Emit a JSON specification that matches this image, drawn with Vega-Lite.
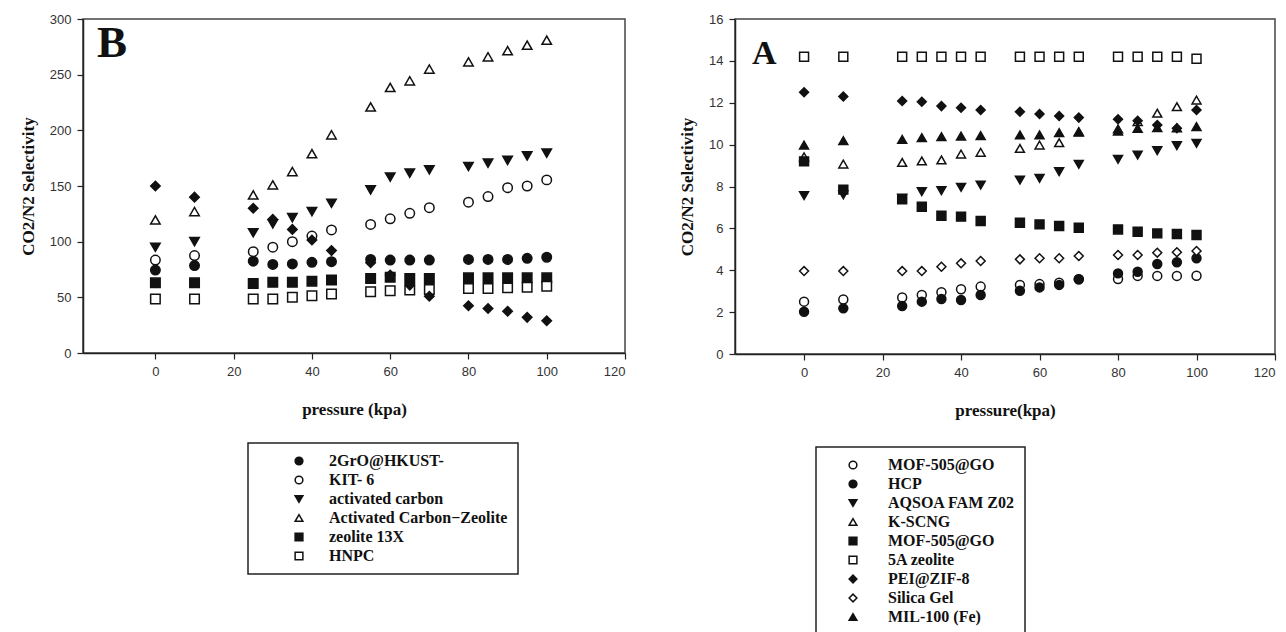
{
  "$schema": "https://vega.github.io/schema/vega-lite/v6.json",
  "background": "white",
  "padding": {"left": 18, "top": 12, "right": 5, "bottom": 5},
  "datasets": {
    "B": [
      {"material":"2GrO@HKUST-","pressure":0,"selectivity":74.5},{"material":"2GrO@HKUST-","pressure":10,"selectivity":78.5},{"material":"2GrO@HKUST-","pressure":25,"selectivity":82.5},{"material":"2GrO@HKUST-","pressure":30,"selectivity":79.5},{"material":"2GrO@HKUST-","pressure":35,"selectivity":80},{"material":"2GrO@HKUST-","pressure":40,"selectivity":81.5},{"material":"2GrO@HKUST-","pressure":45,"selectivity":82},{"material":"2GrO@HKUST-","pressure":55,"selectivity":84},{"material":"2GrO@HKUST-","pressure":60,"selectivity":83.5},{"material":"2GrO@HKUST-","pressure":65,"selectivity":83.5},{"material":"2GrO@HKUST-","pressure":70,"selectivity":83.5},{"material":"2GrO@HKUST-","pressure":80,"selectivity":84},{"material":"2GrO@HKUST-","pressure":85,"selectivity":84},{"material":"2GrO@HKUST-","pressure":90,"selectivity":84},{"material":"2GrO@HKUST-","pressure":95,"selectivity":85},{"material":"2GrO@HKUST-","pressure":100,"selectivity":86},
      {"material":"KIT- 6","pressure":0,"selectivity":83.5},{"material":"KIT- 6","pressure":10,"selectivity":87.5},{"material":"KIT- 6","pressure":25,"selectivity":91},{"material":"KIT- 6","pressure":30,"selectivity":95},{"material":"KIT- 6","pressure":35,"selectivity":100},{"material":"KIT- 6","pressure":40,"selectivity":105},{"material":"KIT- 6","pressure":45,"selectivity":110.5},{"material":"KIT- 6","pressure":55,"selectivity":115.5},{"material":"KIT- 6","pressure":60,"selectivity":120.5},{"material":"KIT- 6","pressure":65,"selectivity":125.5},{"material":"KIT- 6","pressure":70,"selectivity":130.5},{"material":"KIT- 6","pressure":80,"selectivity":135.5},{"material":"KIT- 6","pressure":85,"selectivity":140.5},{"material":"KIT- 6","pressure":90,"selectivity":148.5},{"material":"KIT- 6","pressure":95,"selectivity":150},{"material":"KIT- 6","pressure":100,"selectivity":155.5},
      {"material":"activated carbon","pressure":0,"selectivity":95},{"material":"activated carbon","pressure":10,"selectivity":100},{"material":"activated carbon","pressure":25,"selectivity":108},{"material":"activated carbon","pressure":30,"selectivity":116},{"material":"activated carbon","pressure":35,"selectivity":121.5},{"material":"activated carbon","pressure":40,"selectivity":127},{"material":"activated carbon","pressure":45,"selectivity":134.5},{"material":"activated carbon","pressure":55,"selectivity":146.5},{"material":"activated carbon","pressure":60,"selectivity":158},{"material":"activated carbon","pressure":65,"selectivity":161.5},{"material":"activated carbon","pressure":70,"selectivity":164.5},{"material":"activated carbon","pressure":80,"selectivity":167.5},{"material":"activated carbon","pressure":85,"selectivity":170.5},{"material":"activated carbon","pressure":90,"selectivity":173},{"material":"activated carbon","pressure":95,"selectivity":177},{"material":"activated carbon","pressure":100,"selectivity":179.5},
      {"material":"Activated Carbon−Zeolite","pressure":0,"selectivity":119.5},{"material":"Activated Carbon−Zeolite","pressure":10,"selectivity":127},{"material":"Activated Carbon−Zeolite","pressure":25,"selectivity":142},{"material":"Activated Carbon−Zeolite","pressure":30,"selectivity":151},{"material":"Activated Carbon−Zeolite","pressure":35,"selectivity":163},{"material":"Activated Carbon−Zeolite","pressure":40,"selectivity":179},{"material":"Activated Carbon−Zeolite","pressure":45,"selectivity":196},{"material":"Activated Carbon−Zeolite","pressure":55,"selectivity":221},{"material":"Activated Carbon−Zeolite","pressure":60,"selectivity":238.5},{"material":"Activated Carbon−Zeolite","pressure":65,"selectivity":244.5},{"material":"Activated Carbon−Zeolite","pressure":70,"selectivity":255},{"material":"Activated Carbon−Zeolite","pressure":80,"selectivity":261.5},{"material":"Activated Carbon−Zeolite","pressure":85,"selectivity":266},{"material":"Activated Carbon−Zeolite","pressure":90,"selectivity":271.5},{"material":"Activated Carbon−Zeolite","pressure":95,"selectivity":276.5},{"material":"Activated Carbon−Zeolite","pressure":100,"selectivity":281},
      {"material":"zeolite 13X","pressure":0,"selectivity":63},{"material":"zeolite 13X","pressure":10,"selectivity":63},{"material":"zeolite 13X","pressure":25,"selectivity":62.5},{"material":"zeolite 13X","pressure":30,"selectivity":63.5},{"material":"zeolite 13X","pressure":35,"selectivity":63.5},{"material":"zeolite 13X","pressure":40,"selectivity":64.5},{"material":"zeolite 13X","pressure":45,"selectivity":65.5},{"material":"zeolite 13X","pressure":55,"selectivity":67},{"material":"zeolite 13X","pressure":60,"selectivity":68},{"material":"zeolite 13X","pressure":65,"selectivity":67},{"material":"zeolite 13X","pressure":70,"selectivity":67},{"material":"zeolite 13X","pressure":80,"selectivity":67.5},{"material":"zeolite 13X","pressure":85,"selectivity":67.5},{"material":"zeolite 13X","pressure":90,"selectivity":67.5},{"material":"zeolite 13X","pressure":95,"selectivity":67.5},{"material":"zeolite 13X","pressure":100,"selectivity":67.5},
      {"material":"HNPC","pressure":0,"selectivity":48.5},{"material":"HNPC","pressure":10,"selectivity":48.5},{"material":"HNPC","pressure":25,"selectivity":48.5},{"material":"HNPC","pressure":30,"selectivity":48.5},{"material":"HNPC","pressure":35,"selectivity":50},{"material":"HNPC","pressure":40,"selectivity":51.5},{"material":"HNPC","pressure":45,"selectivity":53},{"material":"HNPC","pressure":55,"selectivity":55},{"material":"HNPC","pressure":60,"selectivity":56},{"material":"HNPC","pressure":65,"selectivity":56.5},{"material":"HNPC","pressure":70,"selectivity":57},{"material":"HNPC","pressure":80,"selectivity":58},{"material":"HNPC","pressure":85,"selectivity":58},{"material":"HNPC","pressure":90,"selectivity":58.5},{"material":"HNPC","pressure":95,"selectivity":59},{"material":"HNPC","pressure":100,"selectivity":60},
      {"material":"Series 7","pressure":0,"selectivity":150},{"material":"Series 7","pressure":10,"selectivity":140},{"material":"Series 7","pressure":25,"selectivity":130},{"material":"Series 7","pressure":30,"selectivity":120},{"material":"Series 7","pressure":35,"selectivity":111},{"material":"Series 7","pressure":40,"selectivity":101.5},{"material":"Series 7","pressure":45,"selectivity":92},{"material":"Series 7","pressure":55,"selectivity":81},{"material":"Series 7","pressure":60,"selectivity":70},{"material":"Series 7","pressure":65,"selectivity":61},{"material":"Series 7","pressure":70,"selectivity":51},{"material":"Series 7","pressure":80,"selectivity":42.5},{"material":"Series 7","pressure":85,"selectivity":40},{"material":"Series 7","pressure":90,"selectivity":37.5},{"material":"Series 7","pressure":95,"selectivity":32},{"material":"Series 7","pressure":100,"selectivity":29}
    ],
    "A": [
      {"material":"MOF-505@GO","pressure":0,"selectivity":2.5},{"material":"MOF-505@GO","pressure":10,"selectivity":2.6},{"material":"MOF-505@GO","pressure":25,"selectivity":2.7},{"material":"MOF-505@GO","pressure":30,"selectivity":2.82},{"material":"MOF-505@GO","pressure":35,"selectivity":2.95},{"material":"MOF-505@GO","pressure":40,"selectivity":3.09},{"material":"MOF-505@GO","pressure":45,"selectivity":3.22},{"material":"MOF-505@GO","pressure":55,"selectivity":3.3},{"material":"MOF-505@GO","pressure":60,"selectivity":3.34},{"material":"MOF-505@GO","pressure":65,"selectivity":3.41},{"material":"MOF-505@GO","pressure":70,"selectivity":3.57},{"material":"MOF-505@GO","pressure":80,"selectivity":3.58},{"material":"MOF-505@GO","pressure":85,"selectivity":3.73},{"material":"MOF-505@GO","pressure":90,"selectivity":3.73},{"material":"MOF-505@GO","pressure":95,"selectivity":3.73},{"material":"MOF-505@GO","pressure":100,"selectivity":3.74},
      {"material":"HCP","pressure":0,"selectivity":2.02},{"material":"HCP","pressure":10,"selectivity":2.18},{"material":"HCP","pressure":25,"selectivity":2.29},{"material":"HCP","pressure":30,"selectivity":2.5},{"material":"HCP","pressure":35,"selectivity":2.63},{"material":"HCP","pressure":40,"selectivity":2.58},{"material":"HCP","pressure":45,"selectivity":2.82},{"material":"HCP","pressure":55,"selectivity":3.02},{"material":"HCP","pressure":60,"selectivity":3.18},{"material":"HCP","pressure":65,"selectivity":3.3},{"material":"HCP","pressure":70,"selectivity":3.57},{"material":"HCP","pressure":80,"selectivity":3.85},{"material":"HCP","pressure":85,"selectivity":3.93},{"material":"HCP","pressure":90,"selectivity":4.3},{"material":"HCP","pressure":95,"selectivity":4.38},{"material":"HCP","pressure":100,"selectivity":4.57},
      {"material":"AQSOA FAM Z02","pressure":0,"selectivity":7.57},{"material":"AQSOA FAM Z02","pressure":10,"selectivity":7.6},{"material":"AQSOA FAM Z02","pressure":25,"selectivity":7.45},{"material":"AQSOA FAM Z02","pressure":30,"selectivity":7.75},{"material":"AQSOA FAM Z02","pressure":35,"selectivity":7.8},{"material":"AQSOA FAM Z02","pressure":40,"selectivity":7.96},{"material":"AQSOA FAM Z02","pressure":45,"selectivity":8.07},{"material":"AQSOA FAM Z02","pressure":55,"selectivity":8.31},{"material":"AQSOA FAM Z02","pressure":60,"selectivity":8.39},{"material":"AQSOA FAM Z02","pressure":65,"selectivity":8.71},{"material":"AQSOA FAM Z02","pressure":70,"selectivity":9.06},{"material":"AQSOA FAM Z02","pressure":80,"selectivity":9.3},{"material":"AQSOA FAM Z02","pressure":85,"selectivity":9.5},{"material":"AQSOA FAM Z02","pressure":90,"selectivity":9.71},{"material":"AQSOA FAM Z02","pressure":95,"selectivity":9.95},{"material":"AQSOA FAM Z02","pressure":100,"selectivity":10.06},
      {"material":"K-SCNG","pressure":0,"selectivity":9.42},{"material":"K-SCNG","pressure":10,"selectivity":9.07},{"material":"K-SCNG","pressure":25,"selectivity":9.15},{"material":"K-SCNG","pressure":30,"selectivity":9.22},{"material":"K-SCNG","pressure":35,"selectivity":9.27},{"material":"K-SCNG","pressure":40,"selectivity":9.55},{"material":"K-SCNG","pressure":45,"selectivity":9.63},{"material":"K-SCNG","pressure":55,"selectivity":9.82},{"material":"K-SCNG","pressure":60,"selectivity":9.98},{"material":"K-SCNG","pressure":65,"selectivity":10.09},{"material":"K-SCNG","pressure":70,"selectivity":10.6},{"material":"K-SCNG","pressure":80,"selectivity":10.75},{"material":"K-SCNG","pressure":85,"selectivity":11.1},{"material":"K-SCNG","pressure":90,"selectivity":11.5},{"material":"K-SCNG","pressure":95,"selectivity":11.81},{"material":"K-SCNG","pressure":100,"selectivity":12.13},
      {"material":"MOF-505@GO #2","pressure":0,"selectivity":9.2},{"material":"MOF-505@GO #2","pressure":10,"selectivity":7.85},{"material":"MOF-505@GO #2","pressure":25,"selectivity":7.39},{"material":"MOF-505@GO #2","pressure":30,"selectivity":7.03},{"material":"MOF-505@GO #2","pressure":35,"selectivity":6.6},{"material":"MOF-505@GO #2","pressure":40,"selectivity":6.56},{"material":"MOF-505@GO #2","pressure":45,"selectivity":6.35},{"material":"MOF-505@GO #2","pressure":55,"selectivity":6.27},{"material":"MOF-505@GO #2","pressure":60,"selectivity":6.19},{"material":"MOF-505@GO #2","pressure":65,"selectivity":6.11},{"material":"MOF-505@GO #2","pressure":70,"selectivity":6.03},{"material":"MOF-505@GO #2","pressure":80,"selectivity":5.95},{"material":"MOF-505@GO #2","pressure":85,"selectivity":5.84},{"material":"MOF-505@GO #2","pressure":90,"selectivity":5.76},{"material":"MOF-505@GO #2","pressure":95,"selectivity":5.73},{"material":"MOF-505@GO #2","pressure":100,"selectivity":5.68},
      {"material":"5A zeolite","pressure":0,"selectivity":14.2},{"material":"5A zeolite","pressure":10,"selectivity":14.2},{"material":"5A zeolite","pressure":25,"selectivity":14.2},{"material":"5A zeolite","pressure":30,"selectivity":14.2},{"material":"5A zeolite","pressure":35,"selectivity":14.2},{"material":"5A zeolite","pressure":40,"selectivity":14.2},{"material":"5A zeolite","pressure":45,"selectivity":14.2},{"material":"5A zeolite","pressure":55,"selectivity":14.2},{"material":"5A zeolite","pressure":60,"selectivity":14.2},{"material":"5A zeolite","pressure":65,"selectivity":14.2},{"material":"5A zeolite","pressure":70,"selectivity":14.2},{"material":"5A zeolite","pressure":80,"selectivity":14.2},{"material":"5A zeolite","pressure":85,"selectivity":14.2},{"material":"5A zeolite","pressure":90,"selectivity":14.2},{"material":"5A zeolite","pressure":95,"selectivity":14.2},{"material":"5A zeolite","pressure":100,"selectivity":14.1},
      {"material":"PEI@ZIF-8","pressure":0,"selectivity":12.5},{"material":"PEI@ZIF-8","pressure":10,"selectivity":12.3},{"material":"PEI@ZIF-8","pressure":25,"selectivity":12.08},{"material":"PEI@ZIF-8","pressure":30,"selectivity":12.05},{"material":"PEI@ZIF-8","pressure":35,"selectivity":11.84},{"material":"PEI@ZIF-8","pressure":40,"selectivity":11.76},{"material":"PEI@ZIF-8","pressure":45,"selectivity":11.65},{"material":"PEI@ZIF-8","pressure":55,"selectivity":11.57},{"material":"PEI@ZIF-8","pressure":60,"selectivity":11.46},{"material":"PEI@ZIF-8","pressure":65,"selectivity":11.37},{"material":"PEI@ZIF-8","pressure":70,"selectivity":11.29},{"material":"PEI@ZIF-8","pressure":80,"selectivity":11.21},{"material":"PEI@ZIF-8","pressure":85,"selectivity":11.14},{"material":"PEI@ZIF-8","pressure":90,"selectivity":10.94},{"material":"PEI@ZIF-8","pressure":95,"selectivity":10.78},{"material":"PEI@ZIF-8","pressure":100,"selectivity":11.65},
      {"material":"Silica Gel","pressure":0,"selectivity":3.96},{"material":"Silica Gel","pressure":10,"selectivity":3.96},{"material":"Silica Gel","pressure":25,"selectivity":3.96},{"material":"Silica Gel","pressure":30,"selectivity":3.96},{"material":"Silica Gel","pressure":35,"selectivity":4.17},{"material":"Silica Gel","pressure":40,"selectivity":4.33},{"material":"Silica Gel","pressure":45,"selectivity":4.44},{"material":"Silica Gel","pressure":55,"selectivity":4.52},{"material":"Silica Gel","pressure":60,"selectivity":4.57},{"material":"Silica Gel","pressure":65,"selectivity":4.57},{"material":"Silica Gel","pressure":70,"selectivity":4.68},{"material":"Silica Gel","pressure":80,"selectivity":4.73},{"material":"Silica Gel","pressure":85,"selectivity":4.73},{"material":"Silica Gel","pressure":90,"selectivity":4.84},{"material":"Silica Gel","pressure":95,"selectivity":4.86},{"material":"Silica Gel","pressure":100,"selectivity":4.92},
      {"material":"MIL-100 (Fe)","pressure":0,"selectivity":9.98},{"material":"MIL-100 (Fe)","pressure":10,"selectivity":10.19},{"material":"MIL-100 (Fe)","pressure":25,"selectivity":10.25},{"material":"MIL-100 (Fe)","pressure":30,"selectivity":10.33},{"material":"MIL-100 (Fe)","pressure":35,"selectivity":10.38},{"material":"MIL-100 (Fe)","pressure":40,"selectivity":10.41},{"material":"MIL-100 (Fe)","pressure":45,"selectivity":10.43},{"material":"MIL-100 (Fe)","pressure":55,"selectivity":10.46},{"material":"MIL-100 (Fe)","pressure":60,"selectivity":10.46},{"material":"MIL-100 (Fe)","pressure":65,"selectivity":10.57},{"material":"MIL-100 (Fe)","pressure":70,"selectivity":10.62},{"material":"MIL-100 (Fe)","pressure":80,"selectivity":10.65},{"material":"MIL-100 (Fe)","pressure":85,"selectivity":10.78},{"material":"MIL-100 (Fe)","pressure":90,"selectivity":10.81},{"material":"MIL-100 (Fe)","pressure":95,"selectivity":10.8},{"material":"MIL-100 (Fe)","pressure":100,"selectivity":10.86}
    ]
  },
  "config": {
    "view": {"stroke": "#444", "strokeWidth": 1.5},
    "axis": {"grid": false, "domainColor": "#222", "domainWidth": 1.5, "tickColor": "#222", "tickWidth": 1.2, "tickSize": 6, "labelPadding": 6, "labelFont": "Liberation Sans", "labelFontSize": 13, "labelColor": "#333", "titleFont": "Liberation Serif", "titleFontWeight": "bold", "titleFontSize": 17, "titleColor": "#111", "titlePadding": 12},
    "axisX": {"titlePadding": 23},
    "legend": {"orient": "none", "title": null, "strokeColor": "#222", "strokeWidth": 1.5, "fillColor": "white", "padding": 10, "labelFont": "Liberation Serif", "labelFontWeight": "bold", "labelFontSize": 16, "labelColor": "#111", "labelLimit": 400, "symbolSize": 60, "symbolStrokeWidth": 1.5, "rowPadding": 3},
    "title": {"anchor": "start", "frame": "group", "font": "Liberation Serif", "fontWeight": "bold", "color": "#111"}
  },
  "spacing": 50,
  "resolve": {"scale": {"x": "independent", "y": "independent", "shape": "independent", "fill": "independent", "stroke": "independent"}, "legend": {"shape": "independent", "fill": "independent", "stroke": "independent"}},
  "hconcat": [
    {
      "width": 542, "height": 334,
      "data": {"name": "B"},
      "title": {"text": "B", "fontSize": 45, "offset": -53, "dx": 14},
      "mark": {"type": "point", "strokeWidth": 1.5, "size": 90, "opacity": 1},
      "encoding": {
        "x": {"field": "pressure", "type": "quantitative", "scale": {"domain": [-18.5, 120], "nice": false, "zero": false}, "axis": {"values": [0, 20, 40, 60, 80, 100, 120], "title": "pressure (kpa)"}},
        "y": {"field": "selectivity", "type": "quantitative", "scale": {"domain": [0, 300], "nice": false}, "axis": {"values": [0, 50, 100, 150, 200, 250, 300], "title": "CO2/N2 Selectivity"}},
        "shape": {"field": "material", "type": "nominal", "scale": {"domain": ["2GrO@HKUST-", "KIT- 6", "activated carbon", "Activated Carbon−Zeolite", "zeolite 13X", "HNPC", "Series 7"], "range": ["circle", "circle", "triangle-down", "triangle-up", "square", "square", "diamond"]}, "legend": {"values": ["2GrO@HKUST-", "KIT- 6", "activated carbon", "Activated Carbon−Zeolite", "zeolite 13X", "HNPC"], "legendX": 165, "legendY": 424, "symbolOffset": 33, "labelOffset": 22}},
        "fill": {"field": "material", "type": "nominal", "scale": {"domain": ["2GrO@HKUST-", "KIT- 6", "activated carbon", "Activated Carbon−Zeolite", "zeolite 13X", "HNPC", "Series 7"], "range": ["#111", "white", "#111", "white", "#111", "white", "#111"]}, "legend": {"values": ["2GrO@HKUST-", "KIT- 6", "activated carbon", "Activated Carbon−Zeolite", "zeolite 13X", "HNPC"], "legendX": 165, "legendY": 424, "symbolOffset": 33, "labelOffset": 22}},
        "stroke": {"field": "material", "type": "nominal", "scale": {"domain": ["2GrO@HKUST-", "KIT- 6", "activated carbon", "Activated Carbon−Zeolite", "zeolite 13X", "HNPC", "Series 7"], "range": ["#111", "#111", "#111", "#111", "#111", "#111", "#111"]}, "legend": {"values": ["2GrO@HKUST-", "KIT- 6", "activated carbon", "Activated Carbon−Zeolite", "zeolite 13X", "HNPC"], "legendX": 165, "legendY": 424, "symbolOffset": 33, "labelOffset": 22}}
      }
    },
    {
      "width": 540, "height": 335,
      "data": {"name": "A"},
      "title": {"text": "A", "fontSize": 34, "offset": -58, "dx": 17},
      "mark": {"type": "point", "strokeWidth": 1.5, "size": 80, "opacity": 1},
      "encoding": {
        "x": {"field": "pressure", "type": "quantitative", "scale": {"domain": [-17.6, 120], "nice": false, "zero": false}, "axis": {"values": [0, 20, 40, 60, 80, 100, 120], "title": "pressure(kpa)"}},
        "y": {"field": "selectivity", "type": "quantitative", "scale": {"domain": [0, 16], "nice": false}, "axis": {"values": [0, 2, 4, 6, 8, 10, 12, 14, 16], "title": "CO2/N2 Selectivity"}},
        "shape": {"field": "material", "type": "nominal", "scale": {"domain": ["MOF-505@GO", "HCP", "AQSOA FAM Z02", "K-SCNG", "MOF-505@GO #2", "5A zeolite", "PEI@ZIF-8", "Silica Gel", "MIL-100 (Fe)"], "range": ["circle", "circle", "triangle-down", "triangle-up", "square", "square", "diamond", "diamond", "triangle-up"]}, "legend": {"labelExpr": "datum.label == 'MOF-505@GO #2' ? 'MOF-505@GO' : datum.label", "legendX": 81, "legendY": 428, "symbolOffset": 19, "labelOffset": 27}},
        "fill": {"field": "material", "type": "nominal", "scale": {"domain": ["MOF-505@GO", "HCP", "AQSOA FAM Z02", "K-SCNG", "MOF-505@GO #2", "5A zeolite", "PEI@ZIF-8", "Silica Gel", "MIL-100 (Fe)"], "range": ["white", "#111", "#111", "white", "#111", "white", "#111", "white", "#111"]}, "legend": {"labelExpr": "datum.label == 'MOF-505@GO #2' ? 'MOF-505@GO' : datum.label", "legendX": 81, "legendY": 428, "symbolOffset": 19, "labelOffset": 27}},
        "stroke": {"field": "material", "type": "nominal", "scale": {"domain": ["MOF-505@GO", "HCP", "AQSOA FAM Z02", "K-SCNG", "MOF-505@GO #2", "5A zeolite", "PEI@ZIF-8", "Silica Gel", "MIL-100 (Fe)"], "range": ["#111", "#111", "#111", "#111", "#111", "#111", "#111", "#111", "#111"]}, "legend": {"labelExpr": "datum.label == 'MOF-505@GO #2' ? 'MOF-505@GO' : datum.label", "legendX": 81, "legendY": 428, "symbolOffset": 19, "labelOffset": 27}}
      }
    }
  ]
}
